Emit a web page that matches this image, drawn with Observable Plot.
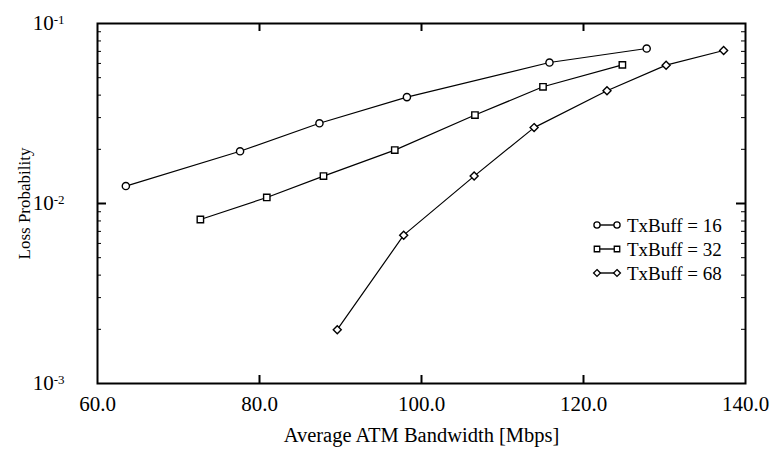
<!DOCTYPE html>
<html><head><meta charset="utf-8">
<script src="https://cdn.jsdelivr.net/npm/d3@7"></script>
<script src="https://cdn.jsdelivr.net/npm/@observablehq/plot@0.6"></script>
<style>body{margin:0;background:#fff}#chart{position:relative;width:773px;height:451px}</style>
</head><body><div id="chart"></div>
<script>
// Series: TxBuff = 16 (circles)
const bw16 = [63.5, 77.6, 87.4, 98.2, 115.8, 127.8];
const loss16 = [0.0125, 0.0195, 0.0279, 0.0390, 0.0607, 0.0726];
// Series: TxBuff = 32 (squares)
const bw32 = [72.7, 80.9, 87.9, 96.7, 106.6, 115.0, 124.8];
const loss32 = [0.00815, 0.0108, 0.0142, 0.0198, 0.0310, 0.0445, 0.0589];
// Series: TxBuff = 68 (diamonds)
const bw68 = [89.6, 97.8, 106.5, 113.9, 122.9, 130.2, 137.3];
const loss68 = [0.00199, 0.00667, 0.0142, 0.0264, 0.0423, 0.0587, 0.0708];

const seriesNames = ["TxBuff = 16", "TxBuff = 32", "TxBuff = 68"];
const symbols = ["circle", "square", "diamond2"];
const xTicks = [60, 80, 100, 120, 140];
const yTicks = [0.001, 0.01, 0.1];
const yExponents = ["-3", "-2", "-1"];
const yMinor = [0.002,0.003,0.004,0.005,0.006,0.007,0.008,0.009,0.02,0.03,0.04,0.05,0.06,0.07,0.08,0.09];
const xInner = [80, 100, 120];

const data = [];
[[bw16, loss16], [bw32, loss32], [bw68, loss68]].forEach(([xs, ys], i) => {
  xs.forEach((x, j) => data.push({series: seriesNames[i], x, y: ys[j]}));
});

const W = 773, H = 451, ML = 97, MR = 28, MT = 23, MB = 68;
const PW = W - ML - MR, PH = H - MT - MB;
const font = "'Liberation Serif', 'Times New Roman', serif";

const chart = Plot.plot({
  width: W, height: H,
  marginLeft: ML, marginRight: MR, marginTop: MT, marginBottom: MB,
  style: {fontFamily: font, fontSize: "21px", color: "#000", background: "#fff"},
  x: {domain: [60, 140]},
  y: {type: "log", domain: [0.001, 0.1]},
  symbol: {domain: seriesNames, range: symbols},
  marks: [
    Plot.frame({stroke: "#000", strokeWidth: 2}),
    Plot.tickY(yMinor, {y: d => d, insetRight: PW - 4, stroke: "#000", strokeWidth: 1}),
    Plot.tickY(yMinor, {y: d => d, insetLeft: PW - 4, stroke: "#000", strokeWidth: 1}),
    Plot.tickY([0.01], {y: d => d, insetRight: PW - 9, stroke: "#000", strokeWidth: 2}),
    Plot.tickY([0.01], {y: d => d, insetLeft: PW - 9, stroke: "#000", strokeWidth: 2}),
    Plot.tickX(xInner, {x: d => d, insetTop: PH - 8, stroke: "#000", strokeWidth: 2}),
    Plot.tickX(xInner, {x: d => d, insetBottom: PH - 8, stroke: "#000", strokeWidth: 2}),
    Plot.axisX({ticks: xTicks, tickSize: 0, tickPadding: 13, tickFormat: d => d.toFixed(1),
      label: "Average ATM Bandwidth [Mbps]", labelAnchor: "center", labelArrow: "none", labelOffset: 58, fontSize: 21}),
    Plot.axisY({ticks: yTicks, tickSize: 0, tickPadding: 33, tickFormat: d => "10", fontSize: 21,
      label: "Loss Probability", labelAnchor: "center", labelArrow: "none", labelOffset: 80}),
    Plot.line(data, {x: "x", y: "y", z: "series", stroke: "#000", strokeWidth: 1.2}),
    Plot.dot(data, {x: "x", y: "y", symbol: "series", r: 3.6, stroke: "#000", fill: "#fff", strokeWidth: 1.4})
  ]
});

const svg = d3.select(chart);
svg.selectAll('[aria-label="x-axis label"] text').style("font-size", "20.5px");
svg.selectAll('[aria-label="y-axis label"] text').style("font-size", "17px");
// superscript exponents on log ticks
svg.selectAll('[aria-label="y-axis tick label"] text').each(function(d, i) {
  d3.select(this).append("tspan").attr("dy", "-0.5em").attr("font-size", "13px").text(yExponents[i]);
});

// legend inside the plot
const lg = svg.append("g").attr("aria-label", "legend").attr("font-family", font)
  .attr("font-size", 19).attr("text-anchor", "start");
const legendSym = [d3.symbolCircle, d3.symbolSquare, d3.symbolDiamond2];
seriesNames.forEach((name, i) => {
  const y = 225 + i * 24;
  const g = lg.append("g");
  g.append("line").attr("x1", 597).attr("x2", 617).attr("y1", y).attr("y2", y).attr("stroke", "#000").attr("stroke-width", 1.4);
  [597, 617].forEach(x => {
    g.append("path").attr("d", d3.symbol(legendSym[i], 30)())
      .attr("transform", `translate(${x},${y})`).attr("fill", "#fff").attr("stroke", "#000").attr("stroke-width", 1.3);
  });
  g.append("text").attr("x", 627).attr("y", y).attr("dy", "0.35em").attr("text-anchor", "start").text(name);
});

document.getElementById("chart").appendChild(chart);
</script>
</body></html>
